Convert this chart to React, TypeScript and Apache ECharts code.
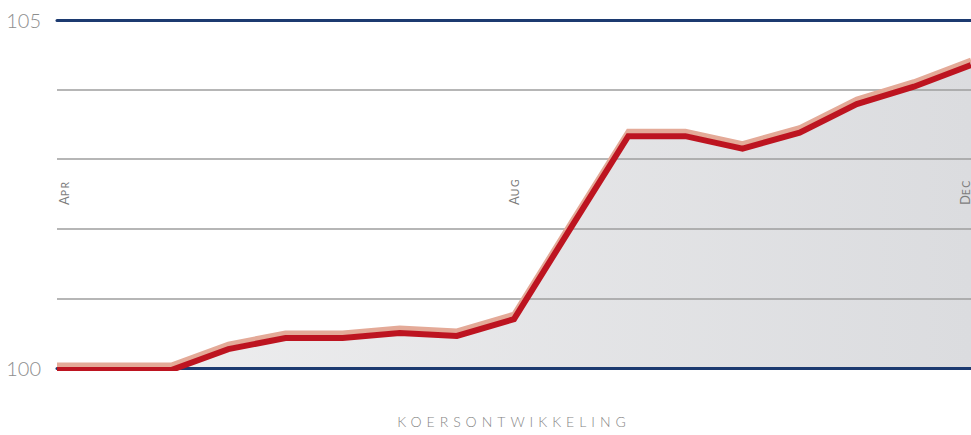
import React, { useEffect, useRef } from "react";
import * as echarts from "echarts";

// Semi-monthly observation points, April to December
const categories = [
  "Apr", "Apr-2", "May", "May-2", "Jun", "Jun-2", "Jul", "Jul-2",
  "Aug", "Aug-2", "Sep", "Sep-2", "Oct", "Oct-2", "Nov", "Nov-2", "Dec",
];
const monthLabels = ["Apr", "May", "Jun", "Jul", "Aug", "Sep", "Oct", "Nov", "Dec"];
const values = [
  100.0, 100.0, 100.0, 100.3, 100.46, 100.46, 100.53, 100.49,
  100.73, 102.05, 103.36, 103.36, 103.18, 103.41, 103.82, 104.07, 104.38,
];
const yMin = 100;
const yMax = 105;
const yShownTicks = [100, 105];
const chartTitle = "Koersontwikkeling";

const PX = (yMax - yMin) / 348; // value per pixel, for the two-tone line offset

export default function App() {
  const ref = useRef<HTMLDivElement>(null);
  useEffect(() => {
    if (!ref.current) return;
    const chart = echarts.init(ref.current, null, { renderer: "svg" });
    const smallCaps = (s: string) => `{a|${s.charAt(0).toUpperCase()}}{b|${s.slice(1).toUpperCase()}}`;
    chart.setOption({
      animation: false,
      grid: [
        { left: 57, right: -8, top: 20, bottom: 67, containLabel: false },
        { left: 63, right: 5, top: 20, bottom: 67, containLabel: false },
      ],
      xAxis: [
        {
          type: "category",
          gridIndex: 0,
          data: categories,
          boundaryGap: false,
          position: "bottom",
          z: 2,
          axisLine: { show: true, lineStyle: { color: "#1c3a70", width: 3 } },
          axisTick: { show: false },
          axisLabel: { show: false },
          splitLine: { show: false },
          name: chartTitle.toUpperCase(),
          nameLocation: "middle",
          nameGap: 46,
          nameTextStyle: {
            fontSize: 14,
            color: "#858585",
            fontFamily: "Lato, TrackTitle, sans-serif",
            fontWeight: 300,
          },
        },
        {
          type: "category",
          gridIndex: 0,
          data: categories,
          boundaryGap: false,
          position: "top",
          z: 2,
          axisLine: { show: true, lineStyle: { color: "#1c3a70", width: 3 } },
          axisTick: { show: false },
          axisLabel: { show: false },
          splitLine: { show: false },
        },
        {
          type: "category",
          gridIndex: 1,
          data: monthLabels,
          boundaryGap: false,
          position: "bottom",
          z: 6,
          axisLine: { show: false },
          axisTick: { show: false },
          splitLine: { show: false },
          axisLabel: {
            show: true,
            inside: true,
            rotate: 90,
            margin: 163,
            interval: 3,
            showMinLabel: true,
            showMaxLabel: true,
            hideOverlap: false,
            formatter: (v: string) => smallCaps(v),
            rich: {
              a: { fontSize: 13, color: "#7d7d7d", fontFamily: "Lato, TrackLbl, sans-serif", fontWeight: 400, verticalAlign: "bottom", lineHeight: 15 },
              b: { fontSize: 10.5, color: "#7d7d7d", fontFamily: "Lato, TrackLbl, sans-serif", fontWeight: 400, verticalAlign: "bottom", lineHeight: 15 },
            },
          },
        },
      ],
      yAxis: [
        {
          type: "value",
          gridIndex: 0,
          min: yMin,
          max: yMax,
          interval: 1,
          z: 2,
          axisLine: { show: false },
          axisTick: { show: false },
          axisLabel: {
            show: true,
            margin: 16,
            color: "#8e8e8e",
            fontSize: 20,
            fontFamily: "Lato, sans-serif",
            fontWeight: 300,
            formatter: (v: number) => (yShownTicks.includes(v) ? String(v) : ""),
          },
          splitLine: { show: true, lineStyle: { color: "#9e9e9e", width: 1.5 } },
        },
        { type: "value", gridIndex: 0, show: false, min: yMin + 2 * PX, max: yMax + 2 * PX },
        { type: "value", gridIndex: 0, show: false, min: yMin - 3 * PX, max: yMax - 3 * PX },
        { type: "value", gridIndex: 1, show: false, min: 0, max: 1 },
      ],
      series: [
        {
          type: "line",
          xAxisIndex: 0,
          yAxisIndex: 2,
          data: values,
          z: 1,
          showSymbol: false,
          silent: true,
          lineStyle: { width: 0, opacity: 0 },
          areaStyle: {
            origin: "start",
            opacity: 1,
            color: new echarts.graphic.LinearGradient(0, 0, 1, 0, [
              { offset: 0, color: "#efeff0" },
              { offset: 1, color: "#dbdcdf" },
            ]),
          },
        },
        {
          type: "line",
          xAxisIndex: 0,
          yAxisIndex: 2,
          data: values,
          z: 3,
          showSymbol: false,
          lineStyle: { color: "#e4aa98", width: 5, join: "miter" },
        },
        {
          type: "line",
          xAxisIndex: 0,
          yAxisIndex: 1,
          data: values,
          z: 4,
          showSymbol: false,
          lineStyle: { color: "#bd1420", width: 6, join: "miter" },
        },
      ],
    });
    return () => chart.dispose();
  }, []);
  return (
    <>
      <style>{`
        body { margin: 0; }
        text[style*="TrackTitle"], text[font-family*="TrackTitle"] { letter-spacing: 5px; }
        text[style*="TrackLbl"], text[font-family*="TrackLbl"] { letter-spacing: 1.5px; }
      `}</style>
      <div ref={ref} style={{ width: 971, height: 435 }} />
    </>
  );
}
